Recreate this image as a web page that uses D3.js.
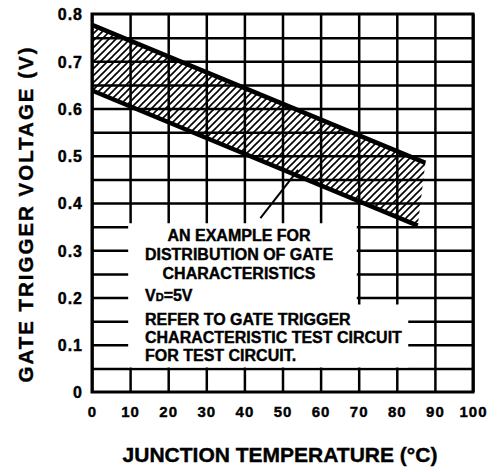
<!DOCTYPE html>
<html>
<head>
<meta charset="utf-8">
<script src="https://cdn.jsdelivr.net/npm/d3@7"></script>
<style>
	body { margin: 0; background: #fff; }
	text { font-family: "Liberation Sans", Arial, sans-serif; font-weight: bold; fill: #000; stroke: #000; stroke-width: 0.4; }
</style>
</head>
<body>
<div id="chart-area"></div>
<script>
// values
const tempTicks = [0, 10, 20, 30, 40, 50, 60, 70, 80, 90, 100];
const voltTicks = [0, 0.1, 0.2, 0.3, 0.4, 0.5, 0.6, 0.7, 0.8];
const voltTickLabels = ['0', '0.1', '0.2', '0.3', '0.4', '0.5', '0.6', '0.7', '0.8'];
const voltGrid = [0.05, 0.1, 0.15, 0.2, 0.25, 0.3, 0.35, 0.4, 0.45, 0.5, 0.55, 0.6, 0.65, 0.7, 0.75];

// band limits (Tj, Vgt)
const upperTemp = [0, 87.5];
const upperVolt = [0.777, 0.485];
const lowerTemp = [0, 85.5];
const lowerVolt = [0.638, 0.352];

// leader from the note to the band
const pointerTemp = [44.2, 54.1];
const pointerVolt = [0.368, 0.470];

// white note area (covers the grid)
const noteTemp = [9.5, 69.5, 69.5, 83.0, 83.0, 9.5];
const noteVolt = [0.357, 0.357, 0.185, 0.185, 0.052, 0.052];

const noteCentered = ['AN EXAMPLE FOR', 'DISTRIBUTION OF GATE', 'CHARACTERISTICS'];
const noteLeft = ['REFER TO GATE TRIGGER', 'CHARACTERISTIC TEST CIRCUIT', 'FOR TEST CIRCUIT.'];

const margin = { top: 14, right: 25, bottom: 80, left: 92 };
const width = 498, height = 472;
const vizWidth = width - margin.left - margin.right;   // 381
const vizHeight = height - margin.top - margin.bottom; // 378

const svg = d3.select('#chart-area')
	.append('svg')
		.attr('width', width)
		.attr('height', height);

svg.append('rect').attr('width', width).attr('height', height).attr('fill', '#fff');

const defs = svg.append('defs');
defs.append('pattern')
	.attr('id', 'hatch')
	.attr('patternUnits', 'userSpaceOnUse')
	.attr('width', 7)
	.attr('height', 7)
	.append('path')
		.attr('d', 'M-1,1 l2,-2 M0,7 l7,-7 M6,8 l2,-2')
		.attr('stroke', '#000')
		.attr('stroke-width', 1.6);

const g = svg.append('g')
	.attr('transform', 'translate(' + margin.left + ',' + margin.top + ')');

const xScale = d3.scaleLinear().domain([0, 100]).range([0, vizWidth]);
const yScale = d3.scaleLinear().domain([0, 0.8]).range([vizHeight, 0]);

// GRID
const xGrid = g.append('g')
	.attr('transform', 'translate(0,' + vizHeight + ')')
	.call(d3.axisBottom(xScale).tickValues(tempTicks).tickSize(-vizHeight).tickFormat(''));
const yGrid = g.append('g')
	.call(d3.axisLeft(yScale).tickValues(voltGrid).tickSize(-vizWidth).tickFormat(''));
[xGrid, yGrid].forEach(a => {
	a.select('.domain').remove();
	a.selectAll('line').attr('stroke', '#000').attr('stroke-width', 2.5);
});

// hatched band
const bandPts = upperTemp.map((t, i) => [xScale(t), yScale(upperVolt[i])])
	.concat(lowerTemp.map((t, i) => [xScale(t), yScale(lowerVolt[i])]).reverse());
g.append('path')
	.attr('d', 'M' + bandPts.join('L') + 'Z')
	.attr('fill', 'url(#hatch)');

const line = d3.line();
[[upperTemp, upperVolt], [lowerTemp, lowerVolt]].forEach(([ts, vs]) => {
	g.append('path')
		.attr('d', line(ts.map((t, i) => [xScale(t), yScale(vs[i])])))
		.attr('fill', 'none')
		.attr('stroke', '#000')
		.attr('stroke-width', 4.5);
});

// note area
g.append('path')
	.attr('d', line(noteTemp.map((t, i) => [xScale(t), yScale(noteVolt[i])])) + 'Z')
	.attr('fill', '#fff');

g.append('path')
	.attr('d', line(pointerTemp.map((t, i) => [xScale(t), yScale(pointerVolt[i])])))
	.attr('stroke', '#000')
	.attr('stroke-width', 2);

// FRAME
g.append('rect')
	.attr('width', vizWidth)
	.attr('height', vizHeight)
	.attr('fill', 'none')
	.attr('stroke', '#000')
	.attr('stroke-width', 3);

// TICK LABELS
const xAxisGroup = g.append('g')
	.attr('transform', 'translate(0,' + vizHeight + ')')
	.call(d3.axisBottom(xScale).tickValues(tempTicks).tickSize(0).tickFormat(d3.format('d')));
xAxisGroup.select('.domain').remove();
xAxisGroup.selectAll('text')
	.attr('y', 24.5)
	.attr('dy', 0)
	.attr('font-size', 15)
	.attr('letter-spacing', 1);

const yAxisGroup = g.append('g')
	.call(d3.axisLeft(yScale).tickValues(voltTicks).tickSize(0).tickFormat((d, i) => voltTickLabels[i]));
yAxisGroup.select('.domain').remove();
yAxisGroup.selectAll('text')
	.attr('x', -9)
	.attr('dy', '0.36em')
	.attr('font-size', 16)
	.attr('letter-spacing', 1);

// NOTE TEXT
const noteX = 145 - margin.left;
const noteMid = 239 - margin.left;
noteCentered.forEach((s, i) => {
	g.append('text')
		.attr('x', noteMid)
		.attr('y', 241 + i * 19 - margin.top)
		.attr('text-anchor', 'middle')
		.attr('font-size', 16)
		.text(s);
});
const vd = g.append('text')
	.attr('x', noteX)
	.attr('y', 301 - margin.top)
	.attr('font-size', 16);
vd.append('tspan').text('V');
vd.append('tspan').attr('font-size', 11).text('D');
vd.append('tspan').text('=5V');
noteLeft.forEach((s, i) => {
	g.append('text')
		.attr('x', noteX)
		.attr('y', 325 + i * 18 - margin.top)
		.attr('font-size', 16)
		.text(s);
});

// AXIS TITLES
svg.append('text')
	.attr('x', 280)
	.attr('y', 462)
	.attr('text-anchor', 'middle')
	.attr('font-size', 21)
	.text('JUNCTION TEMPERATURE (°C)');

svg.append('text')
	.attr('transform', 'translate(33,215) rotate(-90)')
	.attr('text-anchor', 'middle')
	.attr('font-size', 20.5)
	.attr('textLength', 335)
	.attr('lengthAdjust', 'spacing')
	.text('GATE TRIGGER VOLTAGE  (V)');
</script>
</body>
</html>
